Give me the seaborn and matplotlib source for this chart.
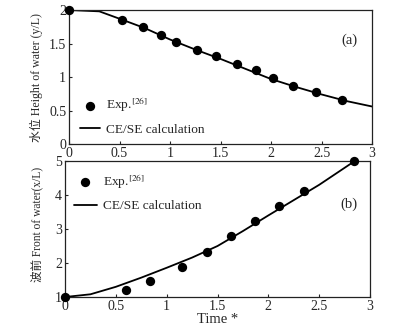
import matplotlib
matplotlib.use("Agg")
import matplotlib.pyplot as plt
import seaborn as sns
import pandas as pd

# (a) water height
exp_a_t = [0.0, 0.52, 0.73, 0.91, 1.06, 1.27, 1.46, 1.66, 1.85, 2.02, 2.22, 2.45, 2.70]
exp_a_y = [2.0, 1.85, 1.74, 1.62, 1.52, 1.41, 1.31, 1.20, 1.10, 0.98, 0.87, 0.77, 0.66]
calc_a_t = [0.0, 0.3, 0.5, 0.75, 1.0, 1.25, 1.5, 1.75, 2.0, 2.25, 2.5, 2.75, 3.0]
calc_a_y = [2.0, 1.98, 1.87, 1.73, 1.56, 1.41, 1.27, 1.12, 0.97, 0.85, 0.74, 0.64, 0.56]

# (b) water front
exp_b_t = [0.0, 0.60, 0.84, 1.15, 1.40, 1.63, 1.87, 2.10, 2.35, 2.84]
exp_b_x = [1.0, 1.22, 1.47, 1.88, 2.33, 2.80, 3.24, 3.67, 4.12, 5.0]
calc_b_t = [0.0, 0.25, 0.5, 0.75, 1.0, 1.25, 1.5, 1.75, 2.0, 2.25, 2.5, 2.84]
calc_b_x = [1.0, 1.08, 1.30, 1.57, 1.86, 2.16, 2.50, 2.94, 3.40, 3.85, 4.30, 4.98]

xticks = [0, 0.5, 1, 1.5, 2, 2.5, 3]
xtick_labels = ["0", "0.5", "1", "1.5", "2", "2.5", "3"]

sns.set_style("ticks")
plt.rcParams['font.family'] = ['Liberation Serif', 'Noto Sans CJK SC']
plt.rcParams['mathtext.fontset'] = 'stix'
plt.rcParams['xtick.direction'] = 'in'
plt.rcParams['ytick.direction'] = 'in'

fig = plt.figure(figsize=(4.04, 3.27), dpi=100)
ax1 = fig.add_axes([0.1708, 0.5596, 0.75, 0.4098])
ax2 = fig.add_axes([0.1609, 0.0917, 0.755, 0.4159])

df_ea = pd.DataFrame({'t': exp_a_t, 'v': exp_a_y})
df_ca = pd.DataFrame({'t': calc_a_t, 'v': calc_a_y})
df_eb = pd.DataFrame({'t': exp_b_t, 'v': exp_b_x})
df_cb = pd.DataFrame({'t': calc_b_t, 'v': calc_b_x})

for ax, de, dc in [(ax1, df_ea, df_ca), (ax2, df_eb, df_cb)]:
    sns.scatterplot(data=de, x='t', y='v', ax=ax, color='black', s=45,
                    edgecolor='black', linewidth=0, label='Exp.$^{[26]}$', zorder=3, clip_on=False)
    sns.lineplot(data=dc, x='t', y='v', ax=ax, color='black', linewidth=1.3,
                 label='CE/SE calculation', sort=False)
    ax.set_xlim(0, 3)
    ax.set_xticks(xticks)
    ax.set_xticklabels(xtick_labels)
    ax.tick_params(labelsize=10, length=2.5, pad=2, width=0.8)
    for sp in ax.spines.values():
        sp.set_linewidth(0.9)
        sp.set_color('#222222')

ax1.set_ylim(0, 2)
ax1.set_yticks([0, 0.5, 1, 1.5, 2])
ax1.set_yticklabels(["0", "0.5", "1", "1.5", "2"])
ax1.set_xlabel('')
ax1.set_ylabel('水位 Height of water (y/L)', fontsize=8.6)
ax1.yaxis.set_label_coords(-0.086, 0.5)
ax1.legend(loc='lower left', frameon=False, fontsize=9.6, handlelength=1.5,
           handletextpad=0.45, labelspacing=0.7, borderpad=0, borderaxespad=0,
           bbox_to_anchor=(0.035, 0.06))
ax1.text(2.78, 1.55, '(a)', fontsize=10.5, ha='center', va='center')

ax2.set_ylim(1, 5)
ax2.set_yticks([1, 2, 3, 4, 5])
ax2.set_yticklabels(["1", "2", "3", "4", "5"])
ax2.set_xlabel('Time *', fontsize=10.5, labelpad=0)
ax2.set_ylabel('波前 Front of water(x/L)', fontsize=8.3)
ax2.yaxis.set_label_coords(-0.072, 0.533)
ax2.legend(loc='upper left', frameon=False, fontsize=9.6, handlelength=1.7,
           handletextpad=0.45, labelspacing=0.7, borderpad=0, borderaxespad=0,
           bbox_to_anchor=(0.03, 0.92))
ax2.text(2.79, 3.73, '(b)', fontsize=10.5, ha='center', va='center')

fig.savefig('out.png', dpi=100)
